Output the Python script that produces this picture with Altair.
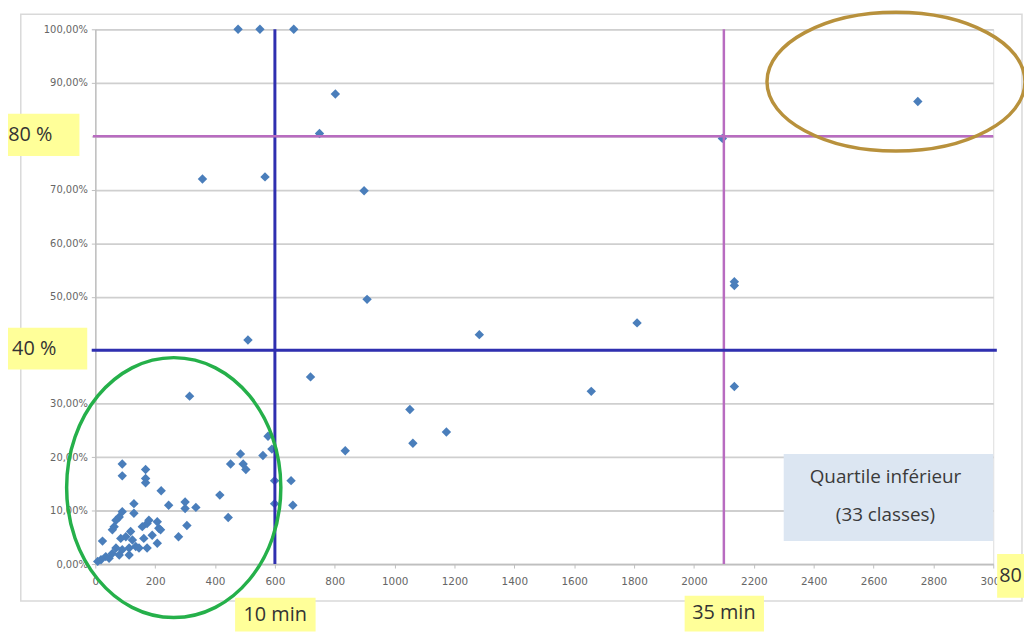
import altair as alt
import pandas as pd

# ---------------- data ----------------
time_s = [
    477, 550, 663, 802, 749, 358, 567, 898, 908, 510, 719, 315,
    1283, 1810, 1657, 2135, 2135, 2135, 2095, 2748, 1051, 1061, 1173, 835,
    90, 90, 168, 168, 168, 220, 416, 452, 485, 494, 503, 560, 577, 590,
    599, 599, 654, 660,
    129, 129, 245, 300, 300, 336, 444, 306, 278, 90, 80, 69, 63, 57, 24,
    118, 124, 157, 173, 207, 212, 190, 162, 207, 218, 179, 135, 113, 90,
    69, 57, 35, 19, 8, 46, 80, 113, 146, 173, 102, 85,
]
share_pct = [
    100, 100, 100, 87.9, 80.5, 72.0, 72.4, 69.8, 49.5, 41.9, 35.0, 31.4,
    42.9, 45.1, 32.3, 52.1, 52.8, 33.2, 79.6, 86.5, 28.9, 22.6, 24.7, 21.2,
    18.7, 16.5, 17.7, 16.0, 15.2, 13.7, 12.9, 18.7, 20.6, 18.7, 17.7, 20.3, 23.9, 21.5,
    15.6, 11.3, 15.6, 11.0,
    11.3, 9.5, 11.0, 11.6, 10.4, 10.6, 8.7, 7.2, 5.1, 9.8, 8.8, 8.2, 7.0, 6.4, 4.3,
    6.1, 4.5, 7.0, 7.6, 7.9, 6.7, 5.4, 4.8, 3.9, 6.4, 8.2, 3.3, 3.0, 2.7,
    3.0, 2.0, 1.4, 0.8, 0.5, 1.1, 1.7, 1.7, 3.0, 3.0, 5.1, 4.8,
]

x_ticks = list(range(0, 3001, 200))
y_ticks = list(range(0, 101, 10))

# threshold lines
v_blue_t = [600]
v_purple_t = [2100]
h_blue_p = [40]
h_purple_p = [80]

# yellow labels: text, box corners (data units), text anchor
lab_text = ["80 %", "40 %", "10 min", "35 min", "80"]
lab_x0 = [-292, -292, 467, 1969, 3013]
lab_x1 = [-53, -27, 736, 2234, 3110]
lab_y0 = [76.3, 36.4, -12.6, -12.6, -6.3]
lab_y1 = [84.2, 44.2, -6.3, -5.9, 1.9]
lab_tx = [-291, -278, 601, 2100, 3020]
lab_ty = [80.3, 40.3, -9.6, -9.2, -2.3]
lab_align = ["left", "left", "center", "center", "left"]

# ellipse annotations (centre in data units)
ell_t = [262, 2675]
ell_p = [14.3, 90.2]

# note box
note_lines = ["Quartile inférieur", "(33 classes)"]
note_t = [2640, 2640]
note_p = [16.2, 9.2]
note_box = dict(x0=[2300], x1=[3000], y0=[4.3], y1=[20.6])

# outer frame
frame = dict(x0=[-249], x1=[3096], y0=[-6.9], y1=[102.8])

# ---------------- chart ----------------
xs = alt.Scale(domain=[0, 3000], nice=False, zero=False)
ys = alt.Scale(domain=[0, 100], nice=False, zero=False)

pts = pd.DataFrame({"t": time_s, "p": share_pct})

base_x = alt.X("t:Q", scale=xs, title=None,
               axis=alt.Axis(values=x_ticks, grid=False, domainColor="#bfbfbf",
                             domainWidth=1.5, tickColor="#bfbfbf", tickSize=4,
                             format="d",
                             labelFont="DejaVu Sans", labelFontSize=10.5,
                             labelColor="#666666", labelPadding=9, labelFlush=False,
                             labelOverlap=False))
base_y = alt.Y("p:Q", scale=ys, title=None,
               axis=alt.Axis(values=y_ticks, grid=True, gridColor="#cfcfcf",
                             gridWidth=1.8, domainColor="#bfbfbf", domainWidth=1.5,
                             tickColor="#bfbfbf", tickSize=4,
                             labelFont="DejaVu Sans", labelFontSize=10,
                             labelColor="#666666", labelPadding=4,
                             labelExpr="(datum.value == 40 || datum.value == 80) ? '' : "
                                       "replace(format(datum.value/100, '.2%'), '.', ',')"))

frame_df = pd.DataFrame(frame)
frame_layer = alt.Chart(frame_df).mark_rect(
    fill="white", fillOpacity=0, stroke="#d9d9d9", strokeWidth=1.5
).encode(x=alt.X("x0:Q", scale=xs), x2="x1:Q",
         y=alt.Y("y0:Q", scale=ys), y2="y1:Q")

points = alt.Chart(pts).mark_point(
    shape="diamond", filled=True, size=90, color="#4a7ebb", opacity=1
).encode(x=base_x, y=base_y)

vb = alt.Chart(pd.DataFrame({"t": v_blue_t, "a": [0], "b": [100]})).mark_rule(
    color="#2f2fb0", strokeWidth=3
).encode(x=alt.X("t:Q", scale=xs), y=alt.Y("a:Q", scale=ys), y2="b:Q")
vp = alt.Chart(pd.DataFrame({"t": v_purple_t, "a": [0], "b": [100]})).mark_rule(
    color="#b86cc0", strokeWidth=2.5
).encode(x=alt.X("t:Q", scale=xs), y=alt.Y("a:Q", scale=ys), y2="b:Q")
hb = alt.Chart(pd.DataFrame({"p": h_blue_p, "a": [-12], "b": [3012]})).mark_rule(
    color="#2f2fb0", strokeWidth=3
).encode(y=alt.Y("p:Q", scale=ys), x=alt.X("a:Q", scale=xs), x2="b:Q")
hp = alt.Chart(pd.DataFrame({"p": h_purple_p, "a": [-8], "b": [3000]})).mark_rule(
    color="#b86cc0", strokeWidth=2.5
).encode(y=alt.Y("p:Q", scale=ys), x=alt.X("a:Q", scale=xs), x2="b:Q")


def ellipse_path(rx, ry):
    k = 0.5523
    return (f"M {rx} 0 C {rx} {k*ry}, {k*rx} {ry}, 0 {ry} "
            f"C {-k*rx} {ry}, {-rx} {k*ry}, {-rx} 0 "
            f"C {-rx} {-k*ry}, {-k*rx} {-ry}, 0 {-ry} "
            f"C {k*rx} {-ry}, {rx} {-k*ry}, {rx} 0 Z")


green = alt.Chart(pd.DataFrame({"t": [ell_t[0]], "p": [ell_p[0]]})).mark_point(
    shape=ellipse_path(0.824, 1.0), filled=False, stroke="#25b04a",
    strokeWidth=3.5, opacity=1
).encode(x=alt.X("t:Q", scale=xs), y=alt.Y("p:Q", scale=ys), size=alt.value(262 ** 2))
brown = alt.Chart(pd.DataFrame({"t": [ell_t[1]], "p": [ell_p[1]]})).mark_point(
    shape=ellipse_path(1.0, 0.538), filled=False, stroke="#b8913c",
    strokeWidth=3.5, opacity=1
).encode(x=alt.X("t:Q", scale=xs), y=alt.Y("p:Q", scale=ys), size=alt.value(260 ** 2))

note_rect = alt.Chart(pd.DataFrame(note_box)).mark_rect(color="#dce6f2").encode(
    x=alt.X("x0:Q", scale=xs), x2="x1:Q", y=alt.Y("y0:Q", scale=ys), y2="y1:Q")
note_txt = alt.Chart(pd.DataFrame({"txt": note_lines, "t": note_t, "p": note_p})).mark_text(
    font="Open Sans", fontSize=19, color="#3a3a3a", align="center", baseline="middle"
).encode(x=alt.X("t:Q", scale=xs), y=alt.Y("p:Q", scale=ys), text="txt:N")

labs = pd.DataFrame({"txt": lab_text, "x0": lab_x0, "x1": lab_x1, "y0": lab_y0,
                     "y1": lab_y1, "tx": lab_tx, "ty": lab_ty, "al": lab_align})
lab_rect = alt.Chart(labs).mark_rect(color="#ffff99").encode(
    x=alt.X("x0:Q", scale=xs), x2="x1:Q", y=alt.Y("y0:Q", scale=ys), y2="y1:Q")
lab_left = alt.Chart(labs).transform_filter("datum.al == 'left'").mark_text(
    font="Open Sans", fontSize=20, color="#333333", align="left", baseline="middle"
).encode(x=alt.X("tx:Q", scale=xs), y=alt.Y("ty:Q", scale=ys), text="txt:N")
lab_center = alt.Chart(labs).transform_filter("datum.al == 'center'").mark_text(
    font="Open Sans", fontSize=20, color="#333333", align="center", baseline="middle"
).encode(x=alt.X("tx:Q", scale=xs), y=alt.Y("ty:Q", scale=ys), text="txt:N")

chart = alt.layer(
    frame_layer, points, vb, vp, hb, hp, note_rect, note_txt,
    lab_rect, lab_left, lab_center, green, brown
).properties(
    width=905, height=539,
    padding={"left": 88, "top": 19, "right": 31, "bottom": 66},
    autosize=alt.AutoSizeParams(type="none"),
).configure_view(stroke=None).configure(background="white")

chart.save("out.html", embed_options={"renderer": "svg", "actions": False})
